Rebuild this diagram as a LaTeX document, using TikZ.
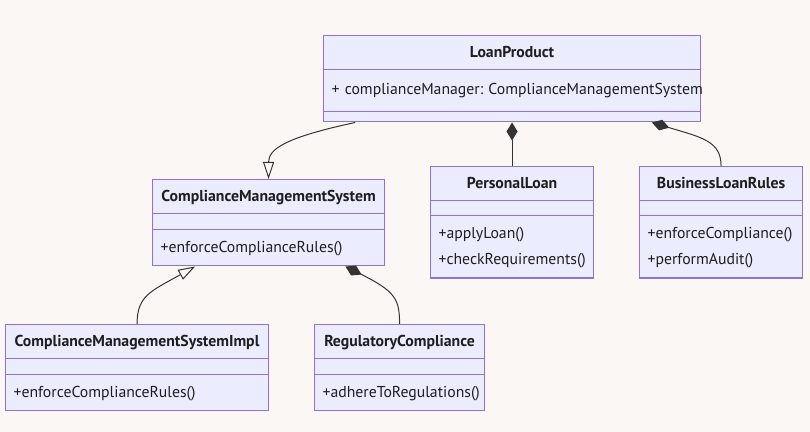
\documentclass[tikz,border=0pt]{standalone}
\usepackage{fontspec}
\setmainfont{PT Sans}
\usepackage{tikz}
\usetikzlibrary{calc, shapes.multipart, arrows.meta}
\definecolor{canvas}{HTML}{FAF7F5}
\definecolor{classfill}{HTML}{ECECFF}
\definecolor{classline}{HTML}{9370DB}
\definecolor{classtext}{HTML}{1E1E1E}
\definecolor{linkline}{HTML}{333333}
\newlength\px
\setlength\px{0.025cm}
\newcommand\classhead[1]{%
  \hspace*{\fill}\rule[-12\px]{0pt}{33\px}\textbf{#1}\hspace*{\fill}}
\newcommand\classgap[1][14]{\rule{0pt}{#1\px}}
\newcommand\firstrow{\rule{0pt}{22\px}}
\newcommand\lastrow{\rule[-13\px]{0pt}{0pt}}
\tikzset{
  umlclass/.style={rectangle split, rectangle split parts=3,
    draw=classline, fill=classfill, line width=0.8pt, text=classtext,
    inner xsep=8\px, inner ysep=0pt, anchor=north west, text width=#1,
    font=\fontsize{11.2}{18.5}\selectfont\frenchspacing},
  inherit/.style={draw=linkline, line width=0.7pt,
    -{Triangle[open, length=0.425cm, width=0.275cm]}},
  compose/.style={draw=linkline, line width=0.7pt,
    {Diamond[length=0.45cm, width=0.275cm]}-},
}

\begin{document}
\begin{tikzpicture}[x=0.025cm, y=-0.025cm]
\fill[canvas] (0,0) rectangle (810,432);
% classes
\node[umlclass=361\px] (loan) at (323,35)
  {\classhead{LoanProduct}
   \nodepart{two}\rule[-17\px]{0pt}{41\px}\mbox{+ complianceManager: ComplianceManagementSystem}
   \nodepart{three}\classgap[9]};
\node[umlclass=216\px] (cms) at (152,179)
  {\classhead{ComplianceManagementSystem}
   \nodepart{two}\classgap[15]
   \nodepart{three}\firstrow+enforceComplianceRules()\lastrow};
\node[umlclass=147\px] (personal) at (430,166)
  {\classhead{PersonalLoan}
   \nodepart{two}\classgap
   \nodepart{three}\firstrow+applyLoan()\\+checkRequirements()\lastrow};
\node[umlclass=147\px] (business) at (639,166)
  {\classhead{BusinessLoanRules}
   \nodepart{two}\classgap
   \nodepart{three}\firstrow+enforceCompliance()\\+performAudit()\lastrow};
\node[umlclass=247\px] (impl) at (5,324)
  {\classhead{ComplianceManagementSystemImpl}
   \nodepart{two}\classgap[15]
   \nodepart{three}\firstrow+enforceComplianceRules()\lastrow};
\node[umlclass=154\px] (reg) at (314,324)
  {\classhead{RegulatoryCompliance}
   \nodepart{two}\classgap[15]
   \nodepart{three}\firstrow+adhereToRegulations()\lastrow};
% links
\draw[inherit] ($(loan.south west)!0.085!(loan.south east)$)
  .. controls +(-70,15) and +(0,-30) .. (cms.north);
\draw[compose] (loan.south -| personal.north) -- (personal.north);
\draw[compose] ($(loan.south west)!0.87!(loan.south east)$)
  .. controls +(50,15) and +(0,-25) .. (business.north);
\draw[inherit] (impl.north)
  .. controls +(0,-28) and +(-45,25) .. ($(cms.south west)!0.185!(cms.south east)$);
\draw[compose] ($(cms.south west)!0.83!(cms.south east)$)
  .. controls +(50,25) and +(0,-25) .. (reg.north);
\end{tikzpicture}
\end{document}
